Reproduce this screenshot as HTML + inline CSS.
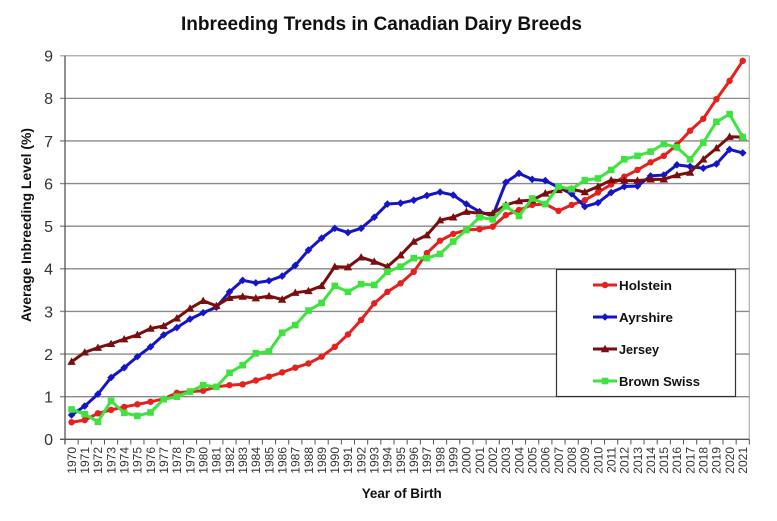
<!DOCTYPE html>
<html>
<head>
<meta charset="utf-8">
<style>
html,body{margin:0;padding:0;background:#fff;}
svg{display:block;}
text{font-family:"Liberation Sans",sans-serif;}
</style>
</head>
<body>
<svg id="c" width="777" height="521" viewBox="0 0 777 521" xmlns="http://www.w3.org/2000/svg">
<rect x="0" y="0" width="777" height="521" fill="#fff"/>
<text x="181" y="30" font-size="19" font-weight="bold" fill="#111" textLength="401" lengthAdjust="spacingAndGlyphs">Inbreeding Trends in Canadian Dairy Breeds</text>
<!-- plot border -->
<line x1="749.3" y1="55.7" x2="749.3" y2="439.3" stroke="#b0b0b0" stroke-width="1.2"/>
<g id="grid" stroke="#8a8a8a" stroke-width="1.3"></g>
<line x1="65" y1="55.7" x2="65" y2="444" stroke="#555" stroke-width="1.3"/>
<line x1="60" y1="439.3" x2="749.3" y2="439.3" stroke="#555" stroke-width="1.3"/>
<g id="ticks" stroke="#555" stroke-width="1"></g>
<g font-size="16" fill="#333" text-anchor="end">
<text x="53" y="445">0</text>
<text x="53" y="402.5">1</text>
<text x="53" y="359.9">2</text>
<text x="53" y="317.3">3</text>
<text x="53" y="274.6">4</text>
<text x="53" y="232">5</text>
<text x="53" y="189.4">6</text>
<text x="53" y="146.8">7</text>
<text x="53" y="104.2">8</text>
<text x="53" y="61.5">9</text>
</g>
<text transform="translate(31,225) rotate(-90)" text-anchor="middle" font-size="13.5" font-weight="bold" fill="#111" textLength="194" lengthAdjust="spacingAndGlyphs">Average Inbreeding Level (%)</text>
<text x="361.7" y="498" font-size="14" font-weight="bold" fill="#111" textLength="80" lengthAdjust="spacingAndGlyphs">Year of Birth</text>
<g font-size="12" fill="#333" text-anchor="end">
<text transform="translate(75.9,447) rotate(-90)">1970</text>
<text transform="translate(89.0,447) rotate(-90)">1971</text>
<text transform="translate(102.2,447) rotate(-90)">1972</text>
<text transform="translate(115.4,447) rotate(-90)">1973</text>
<text transform="translate(128.5,447) rotate(-90)">1974</text>
<text transform="translate(141.7,447) rotate(-90)">1975</text>
<text transform="translate(154.8,447) rotate(-90)">1976</text>
<text transform="translate(168.0,447) rotate(-90)">1977</text>
<text transform="translate(181.2,447) rotate(-90)">1978</text>
<text transform="translate(194.3,447) rotate(-90)">1979</text>
<text transform="translate(207.5,447) rotate(-90)">1980</text>
<text transform="translate(220.6,447) rotate(-90)">1981</text>
<text transform="translate(233.8,447) rotate(-90)">1982</text>
<text transform="translate(247.0,447) rotate(-90)">1983</text>
<text transform="translate(260.1,447) rotate(-90)">1984</text>
<text transform="translate(273.3,447) rotate(-90)">1985</text>
<text transform="translate(286.4,447) rotate(-90)">1986</text>
<text transform="translate(299.6,447) rotate(-90)">1987</text>
<text transform="translate(312.8,447) rotate(-90)">1988</text>
<text transform="translate(325.9,447) rotate(-90)">1989</text>
<text transform="translate(339.1,447) rotate(-90)">1990</text>
<text transform="translate(352.2,447) rotate(-90)">1991</text>
<text transform="translate(365.4,447) rotate(-90)">1992</text>
<text transform="translate(378.6,447) rotate(-90)">1993</text>
<text transform="translate(391.7,447) rotate(-90)">1994</text>
<text transform="translate(404.9,447) rotate(-90)">1995</text>
<text transform="translate(418.0,447) rotate(-90)">1996</text>
<text transform="translate(431.2,447) rotate(-90)">1997</text>
<text transform="translate(444.4,447) rotate(-90)">1998</text>
<text transform="translate(457.5,447) rotate(-90)">1999</text>
<text transform="translate(470.7,447) rotate(-90)">2000</text>
<text transform="translate(483.8,447) rotate(-90)">2001</text>
<text transform="translate(497.0,447) rotate(-90)">2002</text>
<text transform="translate(510.2,447) rotate(-90)">2003</text>
<text transform="translate(523.3,447) rotate(-90)">2004</text>
<text transform="translate(536.5,447) rotate(-90)">2005</text>
<text transform="translate(549.6,447) rotate(-90)">2006</text>
<text transform="translate(562.8,447) rotate(-90)">2007</text>
<text transform="translate(576.0,447) rotate(-90)">2008</text>
<text transform="translate(589.1,447) rotate(-90)">2009</text>
<text transform="translate(602.3,447) rotate(-90)">2010</text>
<text transform="translate(615.4,447) rotate(-90)">2011</text>
<text transform="translate(628.6,447) rotate(-90)">2012</text>
<text transform="translate(641.8,447) rotate(-90)">2013</text>
<text transform="translate(654.9,447) rotate(-90)">2014</text>
<text transform="translate(668.1,447) rotate(-90)">2015</text>
<text transform="translate(681.2,447) rotate(-90)">2016</text>
<text transform="translate(694.4,447) rotate(-90)">2017</text>
<text transform="translate(707.6,447) rotate(-90)">2018</text>
<text transform="translate(720.7,447) rotate(-90)">2019</text>
<text transform="translate(733.9,447) rotate(-90)">2020</text>
<text transform="translate(747.0,447) rotate(-90)">2021</text>
</g>
<g id="series"></g>
<!-- legend -->
<rect x="556.5" y="269.5" width="179" height="127" fill="#fff" stroke="#333" stroke-width="1.2"/>
<g id="legend"></g>
<g font-size="13" font-weight="bold" fill="#111">
<text x="619" y="290" textLength="53" lengthAdjust="spacingAndGlyphs">Holstein</text>
<text x="619" y="322" textLength="54" lengthAdjust="spacingAndGlyphs">Ayrshire</text>
<text x="619" y="354" textLength="40" lengthAdjust="spacingAndGlyphs">Jersey</text>
<text x="619" y="386" textLength="81" lengthAdjust="spacingAndGlyphs">Brown Swiss</text>
</g>
</svg>
<script>
(function(){
var NS="http://www.w3.org/2000/svg";
function el(tag,attrs,parent){var e=document.createElementNS(NS,tag);for(var k in attrs)e.setAttribute(k,attrs[k]);parent.appendChild(e);return e;}
var x0=65,w=13.16,yb=439.3,u=42.62;
function X(i){return x0+(i+0.5)*w;}
function Y(v){return yb-v*u;}
var grid=document.getElementById('grid');
for(var g=1;g<=9;g++){var yy=Y(g);el('line',{x1:60,y1:yy,x2:749.3,y2:yy,stroke:(g==9?'#a8a8a8':'#8a8a8a')},grid);}
var ticks=document.getElementById('ticks');
for(var k=0;k<=52;k++){var xx=x0+k*w;el('line',{x1:xx,y1:439.3,x2:xx,y2:444.5},ticks);}
var H=[0.40,0.45,0.61,0.69,0.76,0.82,0.88,0.95,1.09,1.12,1.14,1.23,1.27,1.29,1.38,1.47,1.57,1.68,1.78,1.94,2.17,2.46,2.80,3.19,3.46,3.66,3.93,4.37,4.66,4.82,4.91,4.93,4.99,5.26,5.38,5.50,5.52,5.36,5.50,5.61,5.79,5.98,6.16,6.32,6.50,6.65,6.91,7.24,7.52,7.98,8.41,8.88];
var A=[0.57,0.78,1.06,1.45,1.68,1.94,2.17,2.45,2.62,2.82,2.97,3.10,3.46,3.73,3.67,3.72,3.83,4.08,4.44,4.72,4.95,4.85,4.95,5.21,5.52,5.54,5.61,5.72,5.80,5.73,5.52,5.34,5.24,6.03,6.24,6.10,6.07,5.91,5.76,5.46,5.55,5.79,5.93,5.94,6.18,6.20,6.44,6.40,6.36,6.46,6.80,6.72];
var J=[1.82,2.04,2.15,2.24,2.35,2.45,2.60,2.66,2.84,3.07,3.25,3.13,3.32,3.35,3.31,3.36,3.28,3.44,3.48,3.60,4.05,4.04,4.27,4.17,4.05,4.32,4.64,4.79,5.14,5.21,5.34,5.30,5.30,5.50,5.59,5.61,5.77,5.85,5.87,5.80,5.93,6.08,6.07,6.07,6.10,6.10,6.20,6.26,6.57,6.83,7.10,7.09];
var B=[0.70,0.59,0.41,0.90,0.62,0.55,0.63,0.94,1.00,1.12,1.27,1.23,1.56,1.74,2.02,2.06,2.50,2.68,3.02,3.20,3.60,3.46,3.64,3.62,3.93,4.05,4.25,4.25,4.35,4.64,4.91,5.21,5.16,5.47,5.24,5.65,5.52,5.93,5.87,6.08,6.12,6.32,6.57,6.65,6.75,6.93,6.85,6.57,6.96,7.45,7.63,7.09];
var S=[
 {d:H,c:'#e5211d',m:'circle'},
 {d:A,c:'#1515c8',m:'diamond'},
 {d:J,c:'#7a0d0d',m:'triangle'},
 {d:B,c:'#3fe23f',m:'square'}
];
function marker(m,x,y,c,p){
 if(m=='circle')el('circle',{cx:x,cy:y,r:3.2,fill:c},p);
 else if(m=='diamond')el('polygon',{points:(x)+','+(y-3.8)+' '+(x+3.8)+','+y+' '+x+','+(y+3.8)+' '+(x-3.8)+','+y,fill:c},p);
 else if(m=='triangle')el('polygon',{points:x+','+(y-4.2)+' '+(x+4.2)+','+(y+3.2)+' '+(x-4.2)+','+(y+3.2),fill:c},p);
 else el('rect',{x:x-3.3,y:y-3.3,width:6.6,height:6.6,fill:c},p);
}
var ser=document.getElementById('series');
S.forEach(function(s){
 var g=el('g',{},ser);
 var pts=s.d.map(function(v,i){return X(i).toFixed(2)+','+Y(v).toFixed(2);}).join(' ');
 el('polyline',{points:pts,fill:'none',stroke:s.c,'stroke-width':3,'stroke-linejoin':'round','stroke-linecap':'round'},g);
 s.d.forEach(function(v,i){marker(s.m,X(i),Y(v),s.c,g);});
});
var lg=document.getElementById('legend');
var ly=[285,317,349,381];
S.forEach(function(s,i){
 el('line',{x1:593,y1:ly[i],x2:617,y2:ly[i],stroke:s.c,'stroke-width':3},lg);
 marker(s.m,605,ly[i],s.c,lg);
});
})();
</script>
</body>
</html>
